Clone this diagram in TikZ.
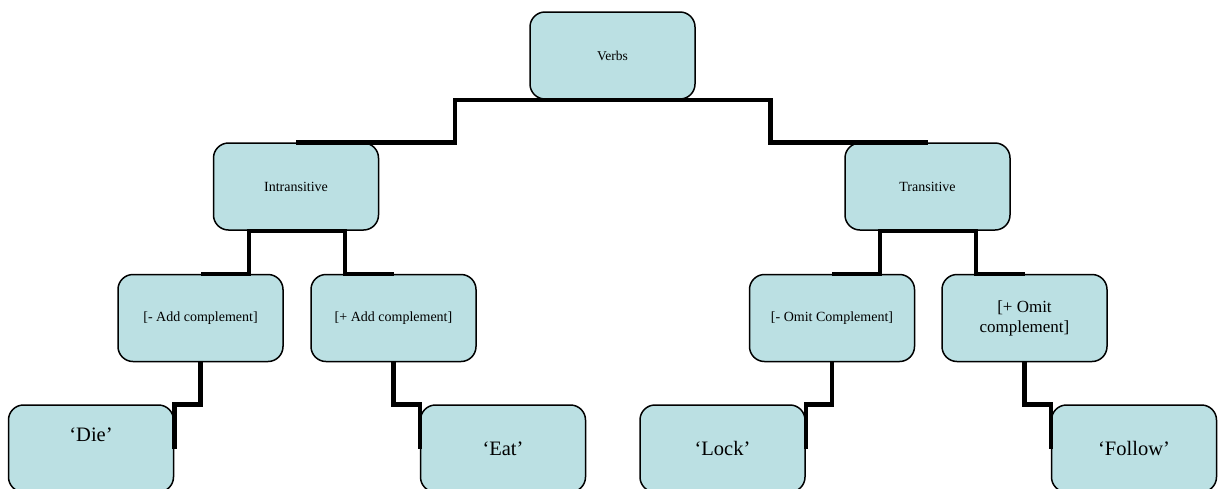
\documentclass[tikz,border=0pt]{standalone}
\usepackage{fontspec}
\setmainfont{Liberation Serif}
\definecolor{boxfill}{RGB}{187,224,227}
\tikzset{
  vbox/.style={draw=black, line width=1.5pt, fill=boxfill, rounded corners=15pt,
    minimum width=165pt, minimum height=87pt, inner sep=2pt, align=center,
    font=\fontsize{14}{17}\selectfont},
  leaf/.style={vbox, font=\fontsize{20.5}{24}\selectfont},
  conn/.style={line width=4.5pt, draw=black}
}
\begin{document}
\begin{tikzpicture}[x=1pt,y=-1pt]
\clip (0,0) rectangle (1219,488);
\fill[white] (0,0) rectangle (1219,488);
% level 1
\node[vbox, font=\fontsize{13.5}{16}\selectfont] (verbs) at (612.5,55.5) {Verbs};
% level 2
\node[vbox] (intr) at (296,186.5) {Intransitive};
\node[vbox] (trans) at (927.5,186.5) {Transitive};
% level 3
\node[vbox] (nadd) at (200.5,318) {[- Add complement]};
\node[vbox] (padd) at (393.5,318) {[+ Add complement]};
\node[vbox] (nomit) at (832,318) {[- Omit Complement]};
\node[vbox, font=\fontsize{17}{20}\selectfont] (pomit) at (1024.5,318) {[+ Omit\\complement]};
% level 4
\node[leaf] (die) at (91,448.5) {\raisebox{27pt}{‘Die’}};
\node[leaf] (eat) at (503,448.5) {‘Eat’};
\node[leaf] (lock) at (722.5,448.5) {‘Lock’};
\node[leaf] (follow) at (1134,448.5) {‘Follow’};
% connectors
\draw[conn] (verbs.south) -- ++(-157.5,0) |- (intr.north);
\draw[conn] (verbs.south) -- ++(158,0) |- (trans.north);
\draw[conn] (intr.south) -- ++(-47,0) |- (nadd.north);
\draw[conn] (intr.south) -- ++(49,0) |- (padd.north);
\draw[conn] (trans.south) -- ++(-47.5,0) |- (nomit.north);
\draw[conn] (trans.south) -- ++(48.5,0) |- (pomit.north);
\draw[conn] (nadd.south) |- (die.north east) -- (die.east);
\draw[conn] (padd.south) |- (eat.north west) -- (eat.west);
\draw[conn] (nomit.south) |- (lock.north east) -- (lock.east);
\draw[conn] (pomit.south) |- (follow.north west) -- (follow.west);
\end{tikzpicture}
\end{document}
